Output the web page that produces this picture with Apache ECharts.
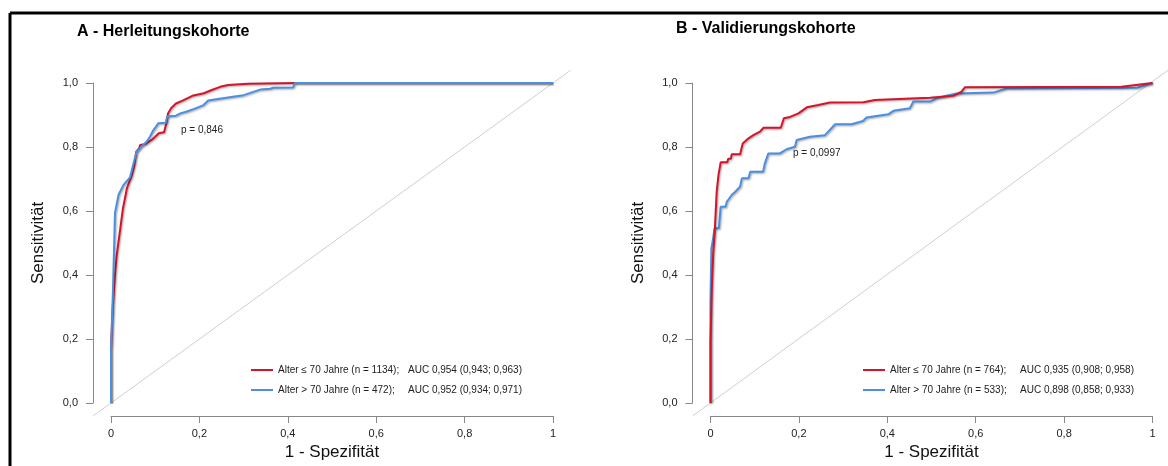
<!DOCTYPE html>
<html>
<head>
<meta charset="utf-8">
<script src="https://cdn.jsdelivr.net/npm/echarts@6/dist/echarts.min.js"></script>
<style>
  html, body { margin: 0; padding: 0; background: #fff; }
  #chart { width: 1168px; height: 466px; }
</style>
</head>
<body>
<div id="chart"></div>
<script>
// panel titles and annotation text
const panelTitles = ['A - Herleitungskohorte', 'B - Validierungskohorte']
const pValues = ['p = 0,846', 'p = 0,0997']

// series names (legend left column) and AUC text (legend right column)
const namesA = ['Alter ≤ 70 Jahre (n = 1134);', 'Alter > 70 Jahre (n = 472);']
const aucA = ['AUC 0,954 (0,943; 0,963)', 'AUC 0,952 (0,934; 0,971)']
const namesB = ['Alter ≤ 70 Jahre (n = 764);', 'Alter > 70 Jahre (n = 533);']
const aucB = ['AUC 0,935 (0,908; 0,958)', 'AUC 0,898 (0,858; 0,933)']

// ROC curves: [1 - specificity, sensitivity]
const rocA_young = [[0,0],[0,0.166],[0.004,0.30],[0.009,0.40],[0.013,0.463],[0.020,0.535],[0.027,0.608],
  [0.036,0.671],[0.047,0.712],[0.053,0.744],[0.057,0.785],[0.064,0.797],[0.066,0.806],[0.077,0.809],
  [0.092,0.822],[0.100,0.832],[0.108,0.843],[0.120,0.846],[0.123,0.848],[0.126,0.879],[0.129,0.905],
  [0.136,0.921],[0.147,0.936],[0.162,0.945],[0.184,0.960],[0.21,0.968],[0.228,0.978],[0.247,0.988],
  [0.265,0.994],[0.31,0.998],[0.42,1.0],[1,1]]
const rocA_old = [[0,0],[0,0.166],[0.004,0.327],[0.006,0.431],[0.008,0.535],[0.009,0.593],[0.017,0.650],
  [0.028,0.681],[0.043,0.705],[0.050,0.744],[0.058,0.785],[0.069,0.801],[0.081,0.817],[0.088,0.832],
  [0.096,0.853],[0.107,0.874],[0.124,0.876],[0.127,0.895],[0.147,0.898],[0.157,0.905],[0.17,0.910],
  [0.19,0.920],[0.208,0.930],[0.22,0.945],[0.276,0.957],[0.30,0.962],[0.317,0.970],[0.339,0.980],
  [0.36,0.982],[0.367,0.985],[0.412,0.986],[0.416,1.0],[1,1]]
const rocB_young = [[0,0],[0,0.19],[0.003,0.358],[0.006,0.463],[0.010,0.546],[0.014,0.66],[0.018,0.712],
  [0.023,0.752],[0.038,0.752],[0.040,0.763],[0.046,0.763],[0.048,0.777],[0.067,0.777],[0.070,0.795],
  [0.073,0.811],[0.086,0.827],[0.097,0.837],[0.112,0.848],[0.120,0.860],[0.159,0.860],[0.166,0.890],
  [0.180,0.894],[0.199,0.905],[0.218,0.924],[0.244,0.931],[0.270,0.939],[0.346,0.940],[0.372,0.947],
  [0.497,0.954],[0.549,0.960],[0.568,0.973],[0.576,0.987],[0.93,0.988],[1,1]]
const rocB_old = [[0,0],[0,0.317],[0.002,0.483],[0.006,0.514],[0.009,0.546],[0.019,0.546],[0.023,0.613],
  [0.034,0.613],[0.037,0.629],[0.048,0.65],[0.056,0.66],[0.067,0.676],[0.071,0.702],[0.086,0.702],
  [0.090,0.723],[0.119,0.723],[0.123,0.749],[0.131,0.780],[0.157,0.780],[0.172,0.793],[0.191,0.801],
  [0.195,0.822],[0.225,0.832],[0.259,0.837],[0.282,0.871],[0.319,0.871],[0.345,0.881],[0.353,0.892],
  [0.402,0.902],[0.414,0.913],[0.451,0.921],[0.459,0.942],[0.497,0.942],[0.511,0.952],[0.534,0.960],
  [0.557,0.967],[0.64,0.970],[0.67,0.983],[0.965,0.985],[1,1]]

// reference diagonal spans the whole plot region (4% beyond 0..1)
const diagonal = [[-0.04,-0.04],[1.04,1.04]]

const RED = '#d3152c'
const BLUE = '#4a8fe0'
const FONT = 'Liberation Sans, Arial, sans-serif'

// plot area of one panel (0..1 on both axes)
const PW = 442, PH = 320, TOP = 83
const panelLeft = [111, 710.5]

const chart = echarts.init(document.getElementById('chart'))

const xAxisOf = (gridIndex) => ({
  type: 'value',
  gridIndex,
  min: 0,
  max: 1,
  interval: 0.2,
  offset: 13,
  name: '1 - Spezifität',
  nameLocation: 'middle',
  nameGap: 27,
  nameTextStyle: { color: '#111', fontSize: 17, fontFamily: FONT },
  axisLine: { show: true, onZero: false, lineStyle: { color: '#888', width: 1 } },
  axisTick: { show: true, length: 7, lineStyle: { color: '#888' } },
  axisLabel: {
    color: '#222', fontSize: 11, fontFamily: FONT, margin: 12,
    formatter: (v) => (v === 0 || v === 1) ? String(v) : v.toFixed(1).replace('.', ',')
  },
  splitLine: { show: false }
})

const yAxisOf = (gridIndex) => ({
  type: 'value',
  gridIndex,
  min: 0,
  max: 1,
  interval: 0.2,
  offset: 18,
  name: 'Sensitivität',
  nameLocation: 'middle',
  nameGap: 46,
  nameRotate: 90,
  nameTextStyle: { color: '#111', fontSize: 17, fontFamily: FONT },
  axisLine: { show: true, onZero: false, lineStyle: { color: '#888', width: 1 } },
  axisTick: { show: true, length: 7, lineStyle: { color: '#888' } },
  axisLabel: {
    color: '#222', fontSize: 11, fontFamily: FONT, margin: 15,
    formatter: (v) => v.toFixed(1).replace('.', ',')
  },
  splitLine: { show: false }
})

// hidden axes over the full plot region, for the diagonal
const hiddenAxis = (gridIndex) => ({ type: 'value', gridIndex, min: -0.04, max: 1.04, show: false })

const rocLine = (name, data, color, idx, z) => ({
  name,
  type: 'line',
  xAxisIndex: idx,
  yAxisIndex: idx,
  data,
  symbol: 'none',
  z,
  color,
  lineStyle: {
    color, width: 2,
    shadowColor: 'rgba(0,0,0,0.35)', shadowBlur: 2, shadowOffsetX: 1, shadowOffsetY: 1
  },
  emphasis: { disabled: true }
})

const diagLine = (idx) => ({
  type: 'line',
  xAxisIndex: idx,
  yAxisIndex: idx,
  data: diagonal,
  symbol: 'none',
  silent: true,
  z: 1,
  lineStyle: { color: '#cfcfcf', width: 1 }
})

const legendOf = (names, aucs, left) => ({
  orient: 'vertical',
  left,
  top: 365,
  padding: 0,
  icon: 'rect',
  itemWidth: 22,
  itemHeight: 2,
  itemGap: 10,
  data: names,
  selectedMode: false,
  formatter: (n) => `{a|${n}}{b|${aucs[names.indexOf(n)]}}`,
  textStyle: {
    color: '#222', fontSize: 10, fontFamily: FONT,
    rich: {
      a: { width: 130, height: 12, fontSize: 10, fontFamily: FONT, color: '#222' },
      b: { height: 12, fontSize: 10, fontFamily: FONT, color: '#222' }
    }
  }
})

chart.setOption({
  animation: false,
  backgroundColor: '#fff',
  grid: [
    { left: panelLeft[0], top: TOP, width: PW, height: PH },
    { left: panelLeft[1], top: TOP, width: PW, height: PH },
    { left: panelLeft[0] - 0.04 * PW, top: TOP - 0.04 * PH, width: 1.08 * PW, height: 1.08 * PH },
    { left: panelLeft[1] - 0.04 * PW, top: TOP - 0.04 * PH, width: 1.08 * PW, height: 1.08 * PH }
  ],
  xAxis: [xAxisOf(0), xAxisOf(1), hiddenAxis(2), hiddenAxis(3)],
  yAxis: [yAxisOf(0), yAxisOf(1), hiddenAxis(2), hiddenAxis(3)],
  legend: [legendOf(namesA, aucA, 251), legendOf(namesB, aucB, 863)],
  series: [
    diagLine(2),
    rocLine(namesA[0], rocA_young, RED, 0, 3),
    rocLine(namesA[1], rocA_old, BLUE, 0, 4),
    diagLine(3),
    rocLine(namesB[1], rocB_old, BLUE, 1, 3),
    rocLine(namesB[0], rocB_young, RED, 1, 4)
  ],
  graphic: [
    { type: 'line', shape: { x1: 10, y1: 13, x2: 1168, y2: 13 }, style: { stroke: '#000', lineWidth: 3 } },
    { type: 'line', shape: { x1: 10, y1: 13, x2: 10, y2: 466 }, style: { stroke: '#000', lineWidth: 3 } },
    { type: 'text', left: 77, top: 24, style: { text: panelTitles[0], fill: '#000', font: 'bold 16px ' + FONT } },
    { type: 'text', left: 676, top: 21, style: { text: panelTitles[1], fill: '#000', font: 'bold 16px ' + FONT } },
    { type: 'text', left: 181, top: 125, style: { text: pValues[0], fill: '#222', font: '10px ' + FONT } },
    { type: 'text', left: 793, top: 148, style: { text: pValues[1], fill: '#222', font: '10px ' + FONT } }
  ]
})
</script>
</body>
</html>
